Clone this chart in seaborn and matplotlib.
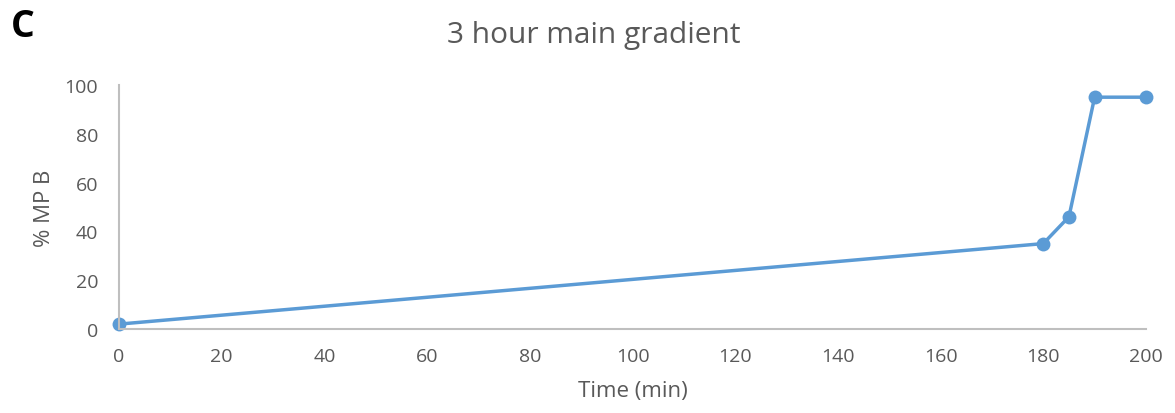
import matplotlib
matplotlib.use("Agg")
import matplotlib.pyplot as plt
import seaborn as sns
import pandas as pd

# Gradient program: time (min) vs % mobile phase B
time_min = [0, 180, 185, 190, 200]
pct_mpb = [2, 35, 46, 95, 95]
x_ticks = [0, 20, 40, 60, 80, 100, 120, 140, 160, 180, 200]
y_ticks = [0, 20, 40, 60, 80, 100]

sns.set_theme(style="white")
plt.rcParams["font.family"] = ["Open Sans", "DejaVu Sans"]

df = pd.DataFrame({"Time (min)": time_min, "% MP B": pct_mpb})

fig = plt.figure(figsize=(11.75, 4.14), dpi=100)
ax = fig.add_axes([0.1013, 0.2029, 0.874, 0.5894])

line_color = "#5B9BD5"
sns.lineplot(data=df, x="Time (min)", y="% MP B", ax=ax, color=line_color,
             linewidth=2.5, marker="o", markersize=10, markeredgewidth=0,
             clip_on=False)

ax.set_xlim(0, 200)
ax.set_ylim(0, 100)
ax.set_xticks(x_ticks)
ax.set_yticks(y_ticks)

grey = "#595959"
ax.tick_params(axis="both", length=0, labelsize=14, labelcolor=grey)
ax.tick_params(axis="x", pad=13)
ax.tick_params(axis="y", pad=15)
ax.set_xlabel("Time (min)", fontsize=16, color=grey, labelpad=11)
ax.set_ylabel("% MP B", fontsize=16, color=grey, labelpad=7)

for side in ["top", "right"]:
    ax.spines[side].set_visible(False)
for side in ["left", "bottom"]:
    ax.spines[side].set_color("#BFBFBF")
    ax.spines[side].set_linewidth(1.5)

fig.text(0.505, 0.896, "3 hour main gradient", ha="center", va="baseline",
         fontsize=21.5, color=grey)
fig.text(0.009, 0.934, "C", ha="left", va="center", fontsize=27,
         fontweight="bold", color="black")

fig.savefig("out.png", dpi=100)
